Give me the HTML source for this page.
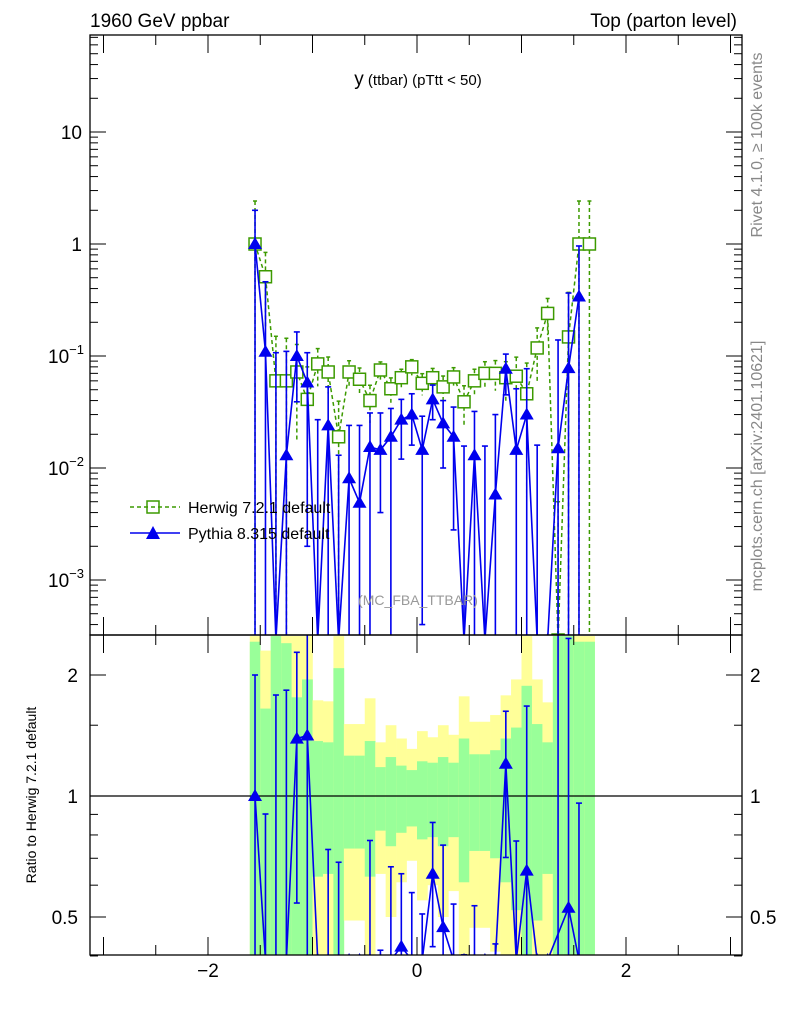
<!DOCTYPE html>
<html><head><meta charset="utf-8"><style>
body{margin:0;background:#fff}
svg{font-family:"Liberation Sans",sans-serif}
</style></head><body>
<svg id="c" width="786" height="1024" viewBox="0 0 786 1024" xmlns="http://www.w3.org/2000/svg">
<defs>
<clipPath id="cm"><rect x="90" y="35" width="652" height="600"/></clipPath>
<clipPath id="cr"><rect x="90" y="635" width="652" height="320"/></clipPath>
</defs>
<g id="bands" clip-path="url(#cr)"></g>
<g id="main" clip-path="url(#cm)"></g>
<g id="ratio" clip-path="url(#cr)"></g>
<g id="axes"></g>
<text x="90" y="27" font-size="19">1960 GeV ppbar</text>
<text x="737" y="27" font-size="19" text-anchor="end">Top (parton level)</text>
<text x="418" y="85" text-anchor="middle"><tspan font-size="19">y</tspan><tspan font-size="15"> (ttbar) (pTtt &lt; 50)</tspan></text>
<text x="418" y="605" text-anchor="middle" font-size="14" fill="#999">(MC_FBA_TTBAR)</text>
<text transform="translate(762,145) rotate(-90)" text-anchor="middle" font-size="16" fill="#888">Rivet 4.1.0, ≥ 100k events</text>
<text transform="translate(762,466) rotate(-90)" text-anchor="middle" font-size="16" fill="#888">mcplots.cern.ch [arXiv:2401.10621]</text>
<text transform="translate(36,795) rotate(-90)" text-anchor="middle" font-size="14">Ratio to Herwig 7.2.1 default</text>
<g>
<g>
<line x1="130" y1="507" x2="180" y2="507" stroke="#3c9a00" stroke-dasharray="4,3" stroke-width="1.5"/>
<rect x="147" y="501" width="12" height="12" fill="none" stroke="#3c9a00" stroke-width="1.5"/>
<text x="188" y="513" font-size="16">Herwig 7.2.1 default</text></g>
<g>
<line x1="130" y1="533" x2="180" y2="533" stroke="#0000ee" stroke-width="1.5"/>
<polygon points="153,526 160,539 146,539" fill="#0000ee"/>
<text x="188" y="539" font-size="16">Pythia 8.315 default</text></g>
</g>
</svg>
<script>
const binLo = -1.6, binW = 0.1;
const herwig = [1.0,0.51,0.06,0.06,0.072,0.041,0.085,0.072,0.019,0.072,0.062,0.04,0.075,0.051,0.064,0.08,0.057,0.064,0.053,0.065,0.039,0.06,0.07,0.07,0.064,0.066,0.046,0.118,0.24,0,0.148,1.0,1.0];
const herwigErr = [1.42,0.65,1.5,1.4,0.76,0.95,0.37,0.36,1.08,0.26,0.26,0.37,0.18,0.25,0.19,0.16,0.22,0.21,0.25,0.21,0.39,0.27,0.27,0.30,0.39,0.48,0.88,0.51,0.36,1.5,1.5,1.42,1.42];
const herwigErr2 = [1.5,1.3,1.5,1.5,1.5,1.5,0.73,0.72,1.5,0.51,0.51,0.75,0.36,0.50,0.39,0.31,0.45,0.40,0.50,0.42,0.77,0.53,0.53,0.59,0.78,0.95,1.5,0.95,0.71,1.5,1.5,1.5,1.5];
const pythia = [1.0,0.109,0,0.013,0.1,0.058,0,0.024,0,0.0081,0.0049,0.0154,0.0145,0.019,0.027,0.03,0.0145,0.041,0.025,0.019,0,0.013,0,0.0058,0.077,0.0145,0.03,0,0,0.015,0.078,0.34];
const pythiaUp = [2.0,0.46,0.107,0.11,0.164,0.107,0.027,0.053,0.013,0.024,0.024,0.031,0.031,0.034,0.041,0.046,0.029,0.055,0.04,0.035,0.0157,0.032,0.0157,0.030,0.104,0.051,0.077,0.016,0,0.139,0.365,0.96];
const pythiaLo = [0,0,0,0,0.039,0.002,0,0,0,0,0,0,0.004,0,0.012,0.016,0.0004,0.027,0.01,0.0028,0,0,0,0,0.045,0,0,0,0,0,0,0];
const mainTicks = [["10",10],["1",1],["10","-1"],["10","-2"],["10","-3"]];
const ratioTicks = [["2",2],["1",1],["0.5",0.5]];
const xTickLabels = [-2,0,2];

const NS="http://www.w3.org/2000/svg";
const xs=v=>417+v*104.5;
const ym=v=>v<=0?640:Math.min(640,244-112*Math.log10(v));
const yr=r=>r<=0?960:Math.min(960,796-121*Math.log2(r));
function mk(p,t,a){const e=document.createElementNS(NS,t);for(const k in a)e.setAttribute(k,a[k]);p.appendChild(e);return e;}
const gM=document.getElementById('main'),gR=document.getElementById('ratio'),gB=document.getElementById('bands'),gA=document.getElementById('axes');
const cx=i=>xs(binLo+binW*(i+0.5));
const GREEN="#3c9a00",BLUE="#0000ee";

herwig.forEach((h,i)=>{
 const x0=xs(binLo+binW*i),w=xs(binLo+binW*(i+1))-x0+0.3;
 const y1=yr(1+herwigErr2[i]),y2=yr(1-herwigErr2[i]);
 const r1=mk(gB,'rect',{x:x0,y:y1,width:w,height:y2-y1,fill:'#ffff99'});
 
 
 const g1=yr(1+herwigErr[i]),g2=yr(1-herwigErr[i]);
 const r2=mk(gB,'rect',{x:x0,y:g1,width:w,height:g2-g1,fill:'#99ff99'});
 
 
});
mk(gR,'line',{x1:90,y1:yr(1),x2:742,y2:yr(1),stroke:'#000','stroke-width':1.2});

let d='';
herwig.forEach((h,i)=>{d+=(i?'L':'M')+cx(i)+','+ym(h);});
const hl=mk(gM,'path',{d:d,fill:'none',stroke:GREEN,'stroke-width':1.5,'stroke-dasharray':'4,3'});


herwig.forEach((h,i)=>{
 const x=cx(i),yt=ym(h>0?h*(1+herwigErr[i]):0.0005*(1+herwigErr[i])*4),yb=ym(h*(1-herwigErr[i]));
 mk(gM,'line',{x1:x,y1:yt,x2:x,y2:yb,stroke:GREEN,'stroke-width':1.5,'stroke-dasharray':'4,3'});
 mk(gM,'line',{x1:x-2,y1:yt,x2:x+2,y2:yt,stroke:GREEN,'stroke-width':1.5});
 const r=mk(gM,'rect',{x:x-6,y:ym(h)-6,width:12,height:12,fill:'#fff',stroke:GREEN,'stroke-width':1.5});
 
 
});
d='';
pythia.forEach((p,i)=>{d+=(i?'L':'M')+cx(i)+','+ym(p);});
const pl=mk(gM,'path',{d:d,fill:'none',stroke:BLUE,'stroke-width':1.6});


pythia.forEach((p,i)=>{
 const x=cx(i);
 if(pythiaUp[i]>0){const yt=ym(pythiaUp[i]),yb=ym(pythiaLo[i]);
  mk(gM,'line',{x1:x,y1:yt,x2:x,y2:yb,stroke:BLUE,'stroke-width':1.6});
  mk(gM,'line',{x1:x-3,y1:yt,x2:x+3,y2:yt,stroke:BLUE,'stroke-width':1.6});
  if(pythiaLo[i]>0)mk(gM,'line',{x1:x-3,y1:yb,x2:x+3,y2:yb,stroke:BLUE,'stroke-width':1.6});}
 const y=ym(p);
 const t=mk(gM,'polygon',{points:`${x},${y-7} ${x+7},${y+5} ${x-7},${y+5}`,fill:BLUE});
 
 
});
d='';let started=false;
pythia.forEach((p,i)=>{const h=herwig[i];if(h<=0){return;}d+=(started?'L':'M')+cx(i)+','+yr(p/h);started=true;});
const rl=mk(gR,'path',{d:d,fill:'none',stroke:BLUE,'stroke-width':1.6});


pythia.forEach((p,i)=>{
 const h=herwig[i];const x=cx(i);
 if(h<=0){mk(gR,'line',{x1:x,y1:635,x2:x,y2:955,stroke:BLUE,'stroke-width':1.6});return;}
 if(pythiaUp[i]>0){const yt=yr(pythiaUp[i]/h),yb=yr(pythiaLo[i]/h);
  mk(gR,'line',{x1:x,y1:yt,x2:x,y2:yb,stroke:BLUE,'stroke-width':1.6});
  mk(gR,'line',{x1:x-3,y1:yt,x2:x+3,y2:yt,stroke:BLUE,'stroke-width':1.6});
  if(pythiaLo[i]>0)mk(gR,'line',{x1:x-3,y1:yb,x2:x+3,y2:yb,stroke:BLUE,'stroke-width':1.6});}
 const y=yr(p/h);
 const t=mk(gR,'polygon',{points:`${x},${y-7} ${x+7},${y+5} ${x-7},${y+5}`,fill:BLUE});
 
 
});

mk(gA,'rect',{x:90,y:35,width:652,height:600,fill:'none',stroke:'#000','stroke-width':1.3});
mk(gA,'rect',{x:90,y:635,width:652,height:320,fill:'none',stroke:'#000','stroke-width':1.3});
for(let e=-4;e<=2;e++)for(let m=1;m<10;m++){
 const y=ym(m*Math.pow(10,e));if(y<35||y>635)continue;const L=m==1?16:8;
 mk(gA,'line',{x1:90,y1:y,x2:90+L,y2:y,stroke:'#000'});
 mk(gA,'line',{x1:742,y1:y,x2:742-L,y2:y,stroke:'#000'});
}
mainTicks.forEach(([b,ex])=>{
 const v=typeof ex==='string'?Math.pow(10,+ex):ex;const y=ym(v);
 const t=mk(gA,'text',{x:82,y:y+7,'text-anchor':'end','font-size':19});
 
 
 if(typeof ex==='string'){t.textContent=b;const s=mk(t,'tspan',{dy:-9,'font-size':13});s.textContent='−'+ex.slice(1);t.setAttribute('x',84);}
 else t.textContent=b;
});
[0.4,0.5,0.6,0.7,0.8,0.9,1,1.5,2].forEach(r=>{const y=yr(r);const L=(r==0.5||r==1||r==2)?16:8;
 mk(gA,'line',{x1:90,y1:y,x2:90+L,y2:y,stroke:'#000'});mk(gA,'line',{x1:742,y1:y,x2:742-L,y2:y,stroke:'#000'});});
ratioTicks.forEach(([l,r])=>{
 const t1=mk(gA,'text',{x:78,y:yr(r)+7,'text-anchor':'end','font-size':19});t1.textContent=l;
 
 
 const t2=mk(gA,'text',{x:750,y:yr(r)+7,'font-size':19});t2.textContent=l;
 
 
});
for(let v=-3;v<=3.01;v+=0.5){const x=xs(v);if(x<90||x>742)continue;const L=Math.abs(v%1)<0.01?18:10;
 [[35,1],[635,-1],[635,1],[955,-1]].forEach(([y0,s])=>mk(gA,'line',{x1:x,y1:y0,x2:x,y2:y0+s*L,stroke:'#000'}));}
xTickLabels.forEach(v=>{const t=mk(gA,'text',{x:xs(v),y:977,'text-anchor':'middle','font-size':19});t.textContent=(v<0?'−':'')+Math.abs(v);
 
 });
</script>
</body></html>
